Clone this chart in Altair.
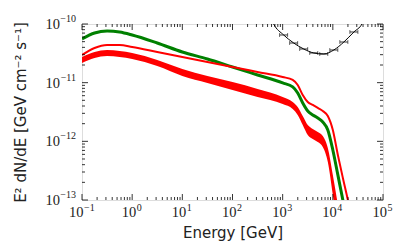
import altair as alt
import pandas as pd
import numpy as np

# log10 energy grid (GeV)
logE = [-1.0, -0.75, -0.5, -0.25, 0.0, 0.5, 1.0, 1.5, 2.0, 2.5, 3.0, 3.2, 3.3, 3.4, 3.5, 3.6, 3.7, 3.8, 3.9, 4.0, 4.1, 4.2, 4.3, 4.4]

# log10 E^2 dN/dE
green = [-10.256, -10.153, -10.119, -10.136, -10.187, -10.324, -10.477, -10.596, -10.733, -10.869, -11.005, -11.073, -11.175, -11.346, -11.482, -11.550, -11.601, -11.670, -11.806, -12.147, -12.572, -13.0, -13.42, -13.9]
red_thin = [-10.528, -10.409, -10.358, -10.358, -10.392, -10.477, -10.562, -10.647, -10.733, -10.818, -10.903, -10.954, -11.039, -11.210, -11.329, -11.380, -11.431, -11.482, -11.567, -11.806, -12.232, -12.624, -13.0, -13.42]
red_band_hi = [-10.562, -10.477, -10.443, -10.460, -10.494, -10.613, -10.767, -10.886, -10.988, -11.107, -11.244, -11.329, -11.414, -11.567, -11.721, -11.789, -11.840, -11.908, -12.112, -12.572, -13.08, -13.6, -14.1, -14.6]
red_band_lo = [-10.664, -10.579, -10.545, -10.562, -10.596, -10.716, -10.886, -11.005, -11.124, -11.244, -11.363, -11.448, -11.550, -11.721, -11.891, -11.959, -12.010, -12.095, -12.351, -12.913, -13.5, -14.0, -14.5, -15.0]

# sensitivity curve
sens_logE = [2.72, 2.82, 3.02, 3.22, 3.42, 3.62, 3.82, 4.02, 4.22, 4.42, 4.58, 4.68]
sens_logF = [-9.8, -10.0, -10.187, -10.324, -10.426, -10.494, -10.511, -10.443, -10.307, -10.136, -10.0, -9.8]
pts_logE = [3.02, 3.22, 3.42, 3.62, 3.82, 4.02, 4.22, 4.42]
pts_logF = [-10.187, -10.324, -10.426, -10.494, -10.511, -10.443, -10.307, -10.136]
half_bin = 0.08

x_major = [1e-1, 1e0, 1e1, 1e2, 1e3, 1e4, 1e5]
x_exp = ["−1", "0", "1", "2", "3", "4", "5"]
y_major = [1e-13, 1e-12, 1e-11, 1e-10]
y_exp = ["−13", "−12", "−11", "−10"]

W, H = 301, 176
SERIF = "Liberation Serif"

df = pd.DataFrame({
    "E": np.power(10.0, logE),
    "green": np.power(10.0, green),
    "red": np.power(10.0, red_thin),
    "hi": np.power(10.0, red_band_hi),
    "lo": np.power(10.0, red_band_lo),
})
sens = pd.DataFrame({"E": np.power(10.0, sens_logE), "F": np.power(10.0, sens_logF)})
pts = pd.DataFrame({
    "E": np.power(10.0, pts_logE),
    "F": np.power(10.0, pts_logF),
    "E1": np.power(10.0, np.array(pts_logE) - half_bin),
    "E2": np.power(10.0, np.array(pts_logE) + half_bin),
})

xsc = alt.Scale(type="log", domain=[1e-1, 1e5])
ysc = alt.Scale(type="log", domain=[1e-13, 1e-10])

xaxis = alt.Axis(values=x_major, labels=False, ticks=False, domain=False, grid=False,
                 title="Energy [GeV]", titleFont="DejaVu Sans", titleFontSize=15,
                 titleFontWeight="normal", titleColor="#222", titlePadding=25)
yaxis = alt.Axis(values=y_major, labels=False, ticks=False, domain=False, grid=False,
                 title="E² dN/dE [GeV cm⁻² s⁻¹]", titleFont="DejaVu Sans", titleFontSize=15,
                 titleFontWeight="normal", titleColor="#222", titlePadding=54)

band = alt.Chart(df).mark_area(color="red", clip=True, opacity=1, interpolate="monotone").encode(
    x=alt.X("E:Q", scale=xsc, axis=xaxis),
    y=alt.Y("hi:Q", scale=ysc, axis=yaxis),
    y2="lo:Q",
)
gline = alt.Chart(df).mark_line(color="green", strokeWidth=3, clip=True, interpolate="monotone").encode(
    x=alt.X("E:Q", scale=xsc), y=alt.Y("green:Q", scale=ysc))
rline = alt.Chart(df).mark_line(color="red", strokeWidth=2, clip=True, interpolate="monotone").encode(
    x=alt.X("E:Q", scale=xsc), y=alt.Y("red:Q", scale=ysc))
sline = alt.Chart(sens).mark_line(color="black", strokeWidth=1, clip=True, interpolate="monotone").encode(
    x=alt.X("E:Q", scale=xsc), y=alt.Y("F:Q", scale=ysc))
ebar = alt.Chart(pts).mark_rule(color="black", strokeWidth=0.8, clip=True).encode(
    x=alt.X("E1:Q", scale=xsc), x2="E2:Q", y=alt.Y("F:Q", scale=ysc))
cap1 = alt.Chart(pts).mark_tick(color="black", orient="vertical", size=4, thickness=0.8, clip=True).encode(
    x=alt.X("E1:Q", scale=xsc), y=alt.Y("F:Q", scale=ysc))
cap2 = alt.Chart(pts).mark_tick(color="black", orient="vertical", size=4, thickness=0.8, clip=True).encode(
    x=alt.X("E2:Q", scale=xsc), y=alt.Y("F:Q", scale=ysc))

# tick marks (inward)
xminor = [m * 10.0 ** d for d in range(-1, 5) for m in range(2, 10)]
yminor = [m * 10.0 ** d for d in range(-13, -10) for m in range(2, 10)]
tx_major = pd.DataFrame({"v": x_major})
tx_minor = pd.DataFrame({"v": xminor})
ty_major = pd.DataFrame({"v": y_major})
ty_minor = pd.DataFrame({"v": yminor})

def xticks(d, L):
    b = alt.Chart(d).mark_rule(color="black", strokeWidth=0.8).encode(
        x=alt.X("v:Q", scale=xsc), y=alt.value(H), y2=alt.value(H - L))
    t = alt.Chart(d).mark_rule(color="black", strokeWidth=0.8).encode(
        x=alt.X("v:Q", scale=xsc), y=alt.value(0), y2=alt.value(L))
    return [b, t]

def yticks(d, L):
    l = alt.Chart(d).mark_rule(color="black", strokeWidth=0.8).encode(
        y=alt.Y("v:Q", scale=ysc), x=alt.value(0), x2=alt.value(L))
    r = alt.Chart(d).mark_rule(color="black", strokeWidth=0.8).encode(
        y=alt.Y("v:Q", scale=ysc), x=alt.value(W), x2=alt.value(W - L))
    return [l, r]

# tick labels: base "10" plus superscript exponent
xl = pd.DataFrame({"v": x_major, "e": x_exp, "neg": [s.startswith("−") for s in x_exp]})
yl = pd.DataFrame({"v": y_major, "e": y_exp})

def xlabels(sub, dxb):
    base = alt.Chart(sub).mark_text(font=SERIF, fontSize=14.5, color="#222", align="right",
                                    baseline="alphabetic", dx=dxb).encode(
        x=alt.X("v:Q", scale=xsc), y=alt.value(H + 17), text=alt.value("10"))
    ex = alt.Chart(sub).mark_text(font=SERIF, fontSize=10, color="#222", align="left",
                                  baseline="alphabetic", dx=dxb + 0.5).encode(
        x=alt.X("v:Q", scale=xsc), y=alt.value(H + 11), text="e:N")
    return [base, ex]

ybase = alt.Chart(yl).mark_text(font=SERIF, fontSize=14.5, color="#222", align="right",
                                baseline="middle", dx=-16, dy=1).encode(
    y=alt.Y("v:Q", scale=ysc), x=alt.value(-6), text=alt.value("10"))
yex = alt.Chart(yl).mark_text(font=SERIF, fontSize=10, color="#222", align="right",
                              baseline="alphabetic", dy=-2).encode(
    y=alt.Y("v:Q", scale=ysc), x=alt.value(-6), text="e:N")

layers = [band, gline, rline, sline, ebar, cap1, cap2]
layers += xticks(tx_major, 6) + xticks(tx_minor, 3) + yticks(ty_major, 6) + yticks(ty_minor, 3)
layers += xlabels(xl[xl["neg"]], 1.5) + xlabels(xl[~xl["neg"]], 4.0) + [ybase, yex]

chart = alt.layer(*layers).properties(
    width=W, height=H,
    autosize=alt.AutoSizeParams(type="none"),
    padding={"left": 74, "top": 16, "right": 16, "bottom": 43},
).configure_view(stroke="black", strokeWidth=1.2).configure(background="white")

chart.save("out.html", embed_options={"renderer": "svg", "actions": False})
